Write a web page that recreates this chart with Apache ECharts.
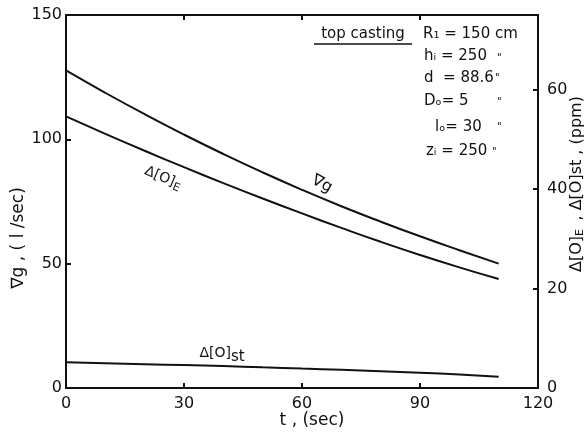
<!DOCTYPE html>
<html>
<head>
<meta charset="utf-8">
<script src="https://cdn.jsdelivr.net/npm/echarts@6/dist/echarts.min.js"></script>
<style>
html,body{margin:0;padding:0;background:#fff;}
#chart{width:587px;height:434px;}
</style>
</head>
<body>
<div id="chart"></div>
<script>
// time (sec)
var tValues = [0, 10, 20, 30, 40, 50, 60, 70, 80, 90, 100, 110];
// gas flow rate Vg (l/sec), left axis
var vgValues = [127.7, 118.7, 110.1, 101.9, 94.1, 86.7, 79.7, 73.1, 66.9, 61.0, 55.4, 50.0];
// Δ[O]E (ppm), right axis
var doEValues = [54.6, 51.1, 47.7, 44.4, 41.2, 38.1, 35.1, 32.2, 29.4, 26.75, 24.25, 21.9];
// Δ[O]st (ppm), right axis
var doStValues = [5.2, 5.0, 4.8, 4.6, 4.4, 4.15, 3.9, 3.65, 3.38, 3.08, 2.7, 2.25];

var xTicks = [0, 30, 60, 90, 120];
var leftTicks = [0, 50, 100, 150];
var rightTicks = [0, 20, 40, 60];

function pairs(ys) { return tValues.map(function (t, i) { return [t, ys[i]]; }); }

var FONT = 'DejaVu Sans';
var black = '#111';
var axisCommon = {
  axisLine: { show: true, onZero: false, lineStyle: { color: black, width: 2 } },
  axisTick: { show: true, inside: true, length: 5, lineStyle: { color: black, width: 2 } },
  splitLine: { show: false },
  axisLabel: { color: black, fontFamily: FONT, fontSize: 16 }
};

var chart = echarts.init(document.getElementById('chart'), null, { renderer: 'canvas' });
var lineStyle = { color: black, width: 2 };

chart.setOption({
  animation: false,
  backgroundColor: '#fff',
  grid: { left: 66, right: 49, top: 15, bottom: 46, show: false },
  xAxis: [
    Object.assign({}, axisCommon, {
      type: 'value', min: xTicks[0], max: xTicks[xTicks.length - 1], interval: 30, position: 'bottom',
      axisLabel: Object.assign({}, axisCommon.axisLabel, { margin: 8 })
    }),
    Object.assign({}, axisCommon, {
      type: 'value', min: xTicks[0], max: xTicks[xTicks.length - 1], interval: 30, position: 'top',
      axisLabel: { show: false }
    })
  ],
  yAxis: [
    Object.assign({}, axisCommon, {
      type: 'value', min: leftTicks[0], max: leftTicks[leftTicks.length - 1], interval: 50, position: 'left',
      axisLabel: Object.assign({}, axisCommon.axisLabel, { margin: 4 })
    }),
    Object.assign({}, axisCommon, {
      type: 'value', min: 0, max: 75, interval: 20, position: 'right',
      axisLabel: Object.assign({}, axisCommon.axisLabel, { margin: 9, showMaxLabel: false,
        formatter: function (v) { return rightTicks.indexOf(v) >= 0 ? String(v) : ''; } })
    })
  ],
  series: [
    { type: 'line', name: 'Vg', xAxisIndex: 0, yAxisIndex: 0, data: pairs(vgValues), smooth: true, showSymbol: false, lineStyle: lineStyle },
    { type: 'line', name: 'dOE', xAxisIndex: 0, yAxisIndex: 1, data: pairs(doEValues), smooth: true, showSymbol: false, lineStyle: lineStyle },
    { type: 'line', name: 'dOst', xAxisIndex: 0, yAxisIndex: 1, data: pairs(doStValues), smooth: true, showSymbol: false, lineStyle: lineStyle }
  ],
  graphic: [
    // axis titles
    { type: 'text', x: 19, y: 238, rotation: Math.PI / 2, style: { text: '∇g , ( l /sec)', font: '17px DejaVu Sans', fill: black, align: 'center', verticalAlign: 'middle' } },
    { type: 'text', x: 312, y: 421, style: { text: 't , (sec)', font: '17px DejaVu Sans', fill: black, align: 'center', verticalAlign: 'middle' } },
    { type: 'text', x: 577, y: 184, rotation: Math.PI / 2,
      style: { text: '{a|Δ[O]}{s|E} {a| , Δ[O]st , (ppm)}', align: 'center', verticalAlign: 'middle',
        rich: { a: { font: '16px DejaVu Sans', fill: black }, s: { font: '11px DejaVu Sans', fill: black, padding: [6, 0, 0, 0] } } } },
    // curve labels
    { type: 'text', x: 163, y: 178, rotation: -0.4,
      style: { text: '{a|Δ[O]}{s|E}', align: 'center', verticalAlign: 'middle',
        rich: { a: { font: '14px DejaVu Sans', fill: black }, s: { font: '11px DejaVu Sans', fill: black, padding: [8, 0, 0, 0] } } } },
    { type: 'text', x: 322, y: 184, rotation: -0.5, style: { text: '∇g', font: '16px DejaVu Sans', fill: black, align: 'center', verticalAlign: 'middle' } },
    { type: 'text', x: 222, y: 353,
      style: { text: '{a|Δ[O]}{s|st}', align: 'center', verticalAlign: 'middle',
        rich: { a: { font: '14px DejaVu Sans', fill: black }, s: { font: '15px DejaVu Sans', fill: black, padding: [8, 0, 0, 0] } } } },
    // annotation block
    { type: 'text', x: 363, y: 34, style: { text: 'top casting', font: '15px DejaVu Sans', fill: black, align: 'center', verticalAlign: 'middle' } },
    { type: 'line', shape: { x1: 314, y1: 44, x2: 412, y2: 44 }, style: { stroke: black, lineWidth: 1.5 } },
    { type: 'text', x: 423, y: 34, style: { text: 'R₁ = 150 cm', font: '15px DejaVu Sans', fill: black, verticalAlign: 'middle' } },
    { type: 'text', x: 424, y: 56, style: { text: 'hᵢ = 250', font: '15px DejaVu Sans', fill: black, verticalAlign: 'middle' } },
    { type: 'text', x: 424, y: 78, style: { text: 'd  = 88.6', font: '15px DejaVu Sans', fill: black, verticalAlign: 'middle' } },
    { type: 'text', x: 424, y: 101, style: { text: 'Dₒ= 5', font: '15px DejaVu Sans', fill: black, verticalAlign: 'middle' } },
    { type: 'text', x: 435, y: 127, style: { text: 'lₒ= 30', font: '15px DejaVu Sans', fill: black, verticalAlign: 'middle' } },
    { type: 'text', x: 426, y: 151, style: { text: 'zᵢ = 250', font: '15px DejaVu Sans', fill: black, verticalAlign: 'middle' } },
    { type: 'text', x: 497, y: 58, style: { text: '"', font: '10px DejaVu Sans', fill: black, verticalAlign: 'middle' } },
    { type: 'text', x: 495, y: 78, style: { text: '"', font: '10px DejaVu Sans', fill: black, verticalAlign: 'middle' } },
    { type: 'text', x: 497, y: 102, style: { text: '"', font: '10px DejaVu Sans', fill: black, verticalAlign: 'middle' } },
    { type: 'text', x: 497, y: 127, style: { text: '"', font: '10px DejaVu Sans', fill: black, verticalAlign: 'middle' } },
    { type: 'text', x: 492, y: 152, style: { text: '"', font: '10px DejaVu Sans', fill: black, verticalAlign: 'middle' } }
  ]
});
</script>
</body>
</html>
